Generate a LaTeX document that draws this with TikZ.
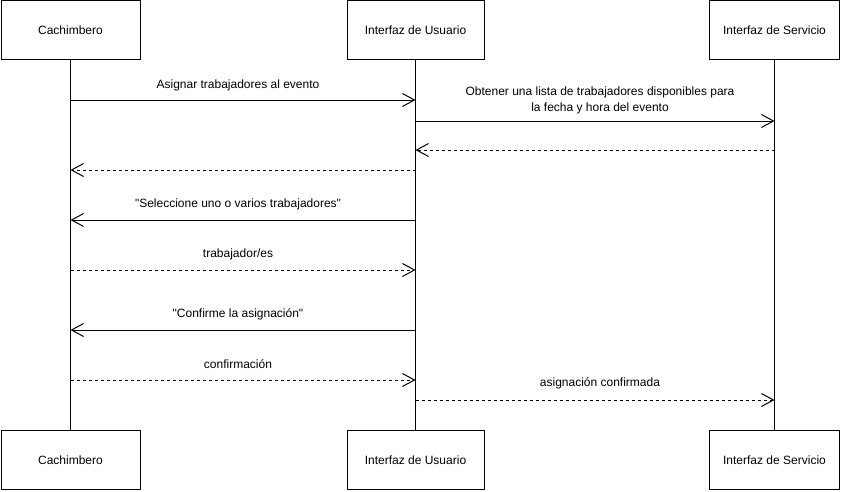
\documentclass[tikz,border=0pt]{standalone}
\usepackage{fontspec}
\setmainfont{Liberation Sans}[Ligatures=TeXOff]
\usetikzlibrary{arrows.meta}
\begin{document}
\begin{tikzpicture}[x=1pt,y=-1pt,
  actor/.style={draw, line width=1pt, minimum height=59pt, inner sep=0pt,
    font=\fontsize{12}{14}\selectfont},
  life/.style={line width=1pt},
  msg/.style={line width=1pt, -{Straight Barb[length=12pt,width=13pt,line width=1pt]}},
  ret/.style={msg, dash pattern=on 3pt off 3pt},
  lbl/.style={inner sep=0pt, align=center, font=\fontsize{12}{16}\selectfont}]
\useasboundingbox (0,0) rectangle (841,491);
% actors
\node[actor, minimum width=139pt] (cT) at (70.5,30) {Cachimbero};
\node[actor, minimum width=137pt] (uT) at (415.5,30) {Interfaz de Usuario};
\node[actor, minimum width=130pt] (sT) at (774.5,30) {Interfaz de Servicio};
\node[actor, minimum width=139pt] (cB) at (70.5,460) {Cachimbero};
\node[actor, minimum width=137pt] (uB) at (415.5,460) {Interfaz de Usuario};
\node[actor, minimum width=130pt] (sB) at (774.5,460) {Interfaz de Servicio};
% lifelines
\draw[life] (cT.south) -- (cB.north);
\draw[life] (uT.south) -- (uB.north);
\draw[life] (sT.south) -- (sB.north);
% message points
\foreach \y in {100,121,150,170,220,270,330,380,400}{
  \coordinate (c\y) at (70.5,\y);
  \coordinate (u\y) at (415.5,\y);
  \coordinate (s\y) at (774.5,\y);
}
% messages
\draw[msg] (c100) -- (u100);
\node[lbl] (l1) at (238,85) {Asignar trabajadores al evento};
\draw[msg] (u121) -- (s121);
\node[lbl] (l2) at (600,100) {Obtener una lista de trabajadores disponibles para\\la fecha y hora del evento};
\draw[ret] (s150) -- (u150);
\draw[ret] (u170) -- (c170);
\draw[msg] (u220) -- (c220);
\node[lbl] (l3) at (238,204) {"Seleccione uno o varios trabajadores"};
\draw[ret] (c270) -- (u270);
\node[lbl] (l4) at (238,254) {trabajador/es};
\draw[msg] (u330) -- (c330);
\node[lbl] (l5) at (238,314) {"Confirme la asignación"};
\draw[ret] (c380) -- (u380);
\node[lbl] (l6) at (238,364) {confirmación};
\draw[ret] (u400) -- (s400);
\node[lbl] (l7) at (600,383) {asignación confirmada};
\end{tikzpicture}
\end{document}
